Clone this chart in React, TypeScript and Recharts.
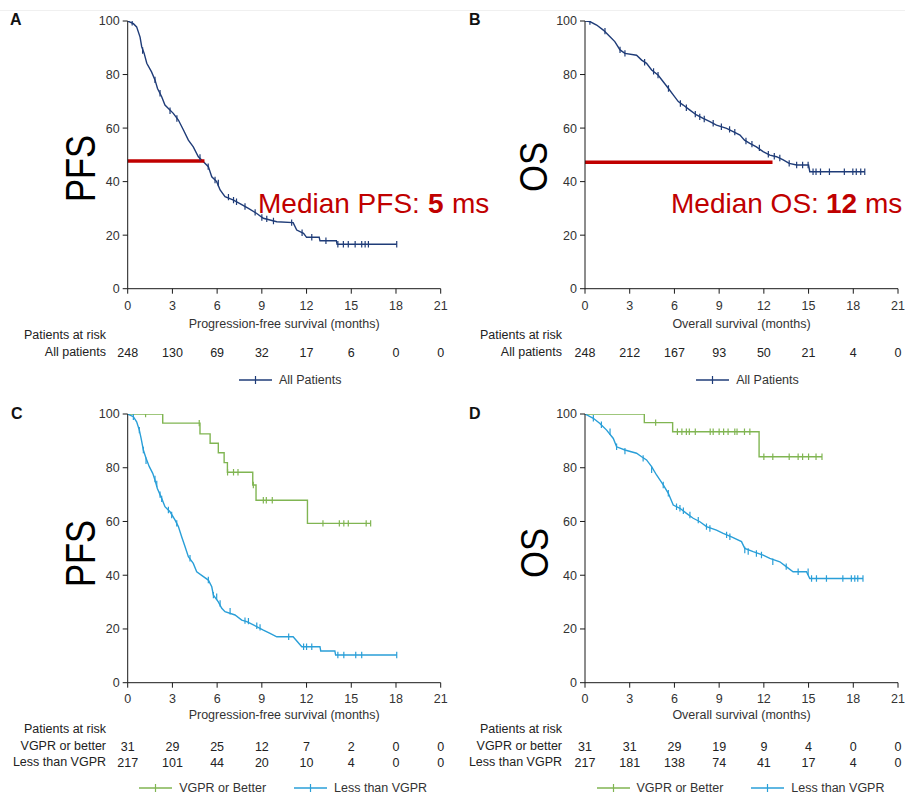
import React from 'react';
import { ComposedChart, Line, Scatter, XAxis, YAxis, ReferenceLine, Legend } from 'recharts';

type Pt = [number, number];

// ---------- axis ticks ----------
const monthTicks = [0, 3, 6, 9, 12, 15, 18, 21];
const pctTicks = [0, 20, 40, 60, 80, 100];

// ---------- Panel A: PFS, all patients ----------
const pfsAllCurve: Pt[] = [
  [0, 100], [0.38, 99], [0.6, 97.8], [0.83, 94], [0.94, 90.4], [1.1, 88], [1.28, 84.2], [1.6, 81],
  [1.83, 78], [2.0, 74.8], [2.28, 71.7], [2.5, 68.6], [3.06, 65.5], [3.4, 63], [3.74, 59.3],
  [4.07, 55.5], [4.4, 53], [4.74, 49.3], [5.08, 47.4], [5.41, 45.6], [5.64, 41.8], [5.97, 40],
  [6.2, 36.9], [6.53, 34.4], [7.1, 33.1], [7.5, 31.9], [8.1, 30], [8.66, 28.1], [9.1, 26.3],
  [10.0, 25], [11.1, 24.7], [11.34, 21.9], [11.8, 20.7], [12.0, 19.2], [12.85, 19.2], [12.9, 17.9],
  [14.0, 17.9], [14.05, 16.6], [18.05, 16.6],
];
const pfsAllCensor: Pt[] = [
  [0.3, 99.5], [1.0, 89], [1.83, 78], [2.17, 73], [2.84, 66.5], [3.3, 63.6], [4.85, 49], [5.4, 45.6],
  [5.86, 40.6], [6.08, 39.5], [6.76, 34.2], [7.1, 33.1], [7.3, 32.5], [7.87, 30.7], [8.55, 28.5],
  [9.0, 26.6], [9.33, 26.1], [9.78, 25.3], [11.0, 24.7], [11.7, 20.9], [12.35, 19.2], [13.3, 17.9],
  [14.1, 16.6], [14.47, 16.6], [14.8, 16.6], [15.26, 16.6], [15.7, 16.6], [15.93, 16.6], [16.15, 16.6], [18.05, 16.6],
];
const pfsAllMedian: Pt[] = [[0, 47.7], [5.15, 47.7]];
const pfsAllRisk = [248, 130, 69, 32, 17, 6, 0, 0];

// ---------- Panel B: OS, all patients ----------
const osAllCurve: Pt[] = [
  [0, 100], [0.33, 99.8], [0.78, 98.5], [1.23, 96.6], [1.68, 94.1], [2.0, 92.3], [2.35, 89.2],
  [2.68, 87.9], [3.46, 87.2], [3.8, 85.4], [4.13, 84.2], [4.47, 81.7], [4.9, 79.8], [5.25, 77.3],
  [5.6, 74.8], [5.92, 72.4], [6.26, 69.9], [6.59, 68.6], [7.04, 66.7], [7.48, 64.9], [7.93, 63.6],
  [8.38, 62.4], [8.82, 61.1], [9.5, 59.9], [9.94, 58.7], [10.4, 57.4], [10.7, 55.5], [11.06, 54.3],
  [11.5, 53], [11.95, 51.2], [12.4, 49.9], [12.85, 49.3], [13.3, 48.1], [13.7, 46.8], [14.2, 46.2],
  [15.0, 46.2], [15.08, 43.7], [18.77, 43.7],
];
const osAllCensor: Pt[] = [
  [0.33, 99.8], [1.34, 96.2], [2.35, 89.2], [2.68, 87.9], [4.0, 84.6], [4.6, 81.2], [4.9, 79.8],
  [5.6, 74.8], [6.4, 69.2], [6.8, 67.6], [7.4, 65.2], [7.7, 64.2], [8.0, 63.4], [8.6, 61.8],
  [9.15, 60.5], [9.7, 59.5], [10.05, 58.5], [10.8, 55.2], [11.2, 54], [11.7, 52.6], [12.3, 50.2],
  [12.7, 49.5], [13.07, 48.8], [13.7, 46.8], [14.2, 46.2], [14.6, 46.2], [14.97, 46.2],
  [15.3, 43.7], [15.5, 43.7], [15.8, 43.7], [16.4, 43.7], [17.4, 43.7], [17.97, 43.7], [18.2, 43.7],
  [18.5, 43.7], [18.77, 43.7],
];
const osAllMedian: Pt[] = [[0, 47.2], [12.58, 47.2]];
const osAllRisk = [248, 212, 167, 93, 50, 21, 4, 0];

// ---------- Panel C: PFS by response ----------
const pfsVgprCurve: Pt[] = [
  [0, 100], [2.35, 96.6], [4.85, 92.6], [5.53, 89.1], [6.08, 85.6], [6.47, 81.9], [6.69, 78.3],
  [8.39, 73.6], [8.61, 67.9], [12.06, 59.3], [16.3, 59.3],
];
const pfsVgprCensor: Pt[] = [
  [1.2, 100], [4.8, 96.6], [6.7, 78.3], [7.1, 78.3], [7.4, 78.3], [8.43, 73.6], [9.1, 67.9],
  [9.3, 67.9], [9.7, 67.9], [13.1, 59.3], [14.2, 59.3], [14.5, 59.3], [14.8, 59.3], [16.0, 59.3], [16.3, 59.3],
];
const pfsLessCurve: Pt[] = [
  [0, 100], [0.38, 99], [0.6, 97.1], [0.78, 94], [0.9, 90.9], [1.05, 86.6], [1.23, 83.5], [1.45, 80.4],
  [1.68, 77.9], [1.83, 75.4], [1.99, 72.3], [2.28, 68.6], [2.5, 65.5], [2.84, 63.6], [3.18, 60.5],
  [3.4, 58.1], [3.62, 54.3], [3.85, 50.6], [4.07, 46.9], [4.4, 44.4], [4.63, 41.3], [5.08, 39.5],
  [5.41, 38.2], [5.64, 35.7], [5.75, 32.6], [6.08, 30.1], [6.31, 27.7], [6.53, 26.4], [7.2, 25.2],
  [7.65, 23.3], [7.99, 22.7], [8.43, 21.5], [9.1, 19.6], [9.55, 18.4], [10.0, 17.1], [11.1, 17.1],
  [11.68, 13.4], [12.9, 13.4], [12.95, 11.8], [13.9, 11.8], [13.95, 10.3], [18.05, 10.3],
];
const pfsLessCensor: Pt[] = [
  [0.38, 99], [0.78, 94], [1.05, 86.6], [1.23, 82.6], [1.83, 75.8], [1.95, 74], [2.17, 70], [2.28, 68.4],
  [2.73, 64.3], [2.95, 62.4], [3.29, 59.3], [4.18, 46.3], [5.41, 38.2], [5.75, 32.6], [5.97, 32],
  [6.2, 29.5], [6.87, 26.6], [7.87, 23.1], [8.1, 22.9], [8.66, 21.2], [8.88, 20.6], [10.8, 17.1],
  [11.8, 13.4], [12.0, 13.4], [12.35, 13.4], [14.1, 10.3], [14.5, 10.3], [15.3, 10.3], [15.7, 10.3], [18.05, 10.3],
];
const pfsVgprRisk = [31, 29, 25, 12, 7, 2, 0, 0];
const pfsLessRisk = [217, 101, 44, 20, 10, 4, 0, 0];

// ---------- Panel D: OS by response ----------
const osVgprCurve: Pt[] = [
  [0, 100], [3.98, 96.8], [5.88, 93.4], [11.68, 84.1], [15.9, 84.1],
];
const osVgprCensor: Pt[] = [
  [4.74, 96.8], [6.2, 93.4], [6.5, 93.4], [6.8, 93.4], [7.0, 93.4], [7.4, 93.4], [8.4, 93.4], [8.6, 93.4],
  [9.0, 93.4], [9.3, 93.4], [9.6, 93.4], [10.05, 93.4], [10.2, 93.4], [10.7, 93.4], [11.06, 93.4],
  [12.0, 84.1], [12.6, 84.1], [13.7, 84.1], [14.3, 84.1], [14.6, 84.1], [15.0, 84.1], [15.5, 84.1], [15.9, 84.1],
];
const osLessCurve: Pt[] = [
  [0, 100], [0.56, 98.4], [1.0, 96.5], [1.45, 94], [1.9, 90.9], [2.12, 87.8], [2.68, 86.6], [3.46, 85.4],
  [3.8, 84.1], [4.13, 82.9], [4.47, 80.4], [4.8, 77.3], [5.25, 73.6], [5.59, 70.5], [5.92, 66.1],
  [6.37, 64.9], [6.81, 63], [7.26, 61.2], [7.71, 59.9], [8.15, 58.1], [8.82, 56.8], [9.27, 55.6],
  [9.83, 54.3], [10.5, 52.5], [10.72, 50], [11.28, 48.8], [11.95, 47.5], [12.4, 46.3], [13.07, 45],
  [13.5, 43.2], [13.96, 41.3], [14.86, 41.3], [15.08, 38.8], [18.65, 38.8],
];
const osLessCensor: Pt[] = [
  [0.56, 98.4], [1.1, 96], [1.68, 93.4], [2.12, 87.8], [2.68, 86.2], [3.9, 83.5], [4.47, 79.2],
  [5.25, 73.6], [5.59, 70.5], [6.14, 65.5], [6.37, 64.9], [6.6, 64], [7.04, 62.4], [7.6, 60.5],
  [8.15, 58.1], [8.38, 57.4], [9.5, 55], [9.72, 54.3], [10.72, 49.4], [10.95, 48.8], [11.5, 48.1],
  [11.84, 47.5], [12.6, 45], [13.5, 43.2], [14.3, 41.3], [14.97, 41.3], [15.2, 38.8], [15.53, 38.8],
  [16.2, 38.8], [17.3, 38.8], [17.87, 38.8], [18.1, 38.8], [18.3, 38.8], [18.65, 38.8],
];
const osVgprRisk = [31, 31, 29, 19, 9, 4, 0, 0];
const osLessRisk = [217, 181, 138, 74, 41, 17, 4, 0];

// ---------- styling ----------
const NAVY = '#1f3c78';
const BLUE = '#2a9fd8';
const GREEN = '#80b552';
const RED = '#c00000';
const TEXT = '#333';
const FONT = '"Liberation Sans", Arial, Helvetica, sans-serif';

const rows = (pts: Pt[]) => pts.map(([t, s]) => ({ t, s }));

type Series = { name: string; color: string; curve: Pt[]; censor: Pt[]; stepped: boolean };
type RiskRow = { label: string; values: number[] };

type PanelProps = {
  left: number; top: number; width: number; height: number;
  margin: { top: number; right: number; bottom: number; left: number };
  yAxisWidth: number; mainAxisHeight: number; tickMargin: number; titleOffset: number;
  axisTitle: string; series: Series[]; riskRows: RiskRow[]; riskLabelOffset: number;
  median?: Pt[]; legendHeight: number; legendPad: number; legendShift: number;
};

function LegendIcon({ color }: { color: string }) {
  return (
    <svg width={33} height={10} style={{ display: 'block' }}>
      <line x1={0} x2={33} y1={5} y2={5} stroke={color} strokeWidth={1.5} />
      <line x1={16.5} x2={16.5} y1={1} y2={9} stroke={color} strokeWidth={1.2} />
    </svg>
  );
}

function KMPanel(p: PanelProps) {
  const plotLeft = p.margin.left + p.yAxisWidth;
  const plotWidth = p.width - plotLeft - p.margin.right;
  return (
    <div style={{ position: 'absolute', left: p.left, top: p.top, width: p.width, height: p.height }}>
      <ComposedChart width={p.width} height={p.height} margin={p.margin} style={{ fontFamily: FONT }}>
        <XAxis
          dataKey="t" type="number" domain={[0, 21]} ticks={monthTicks} interval={0} allowDataOverflow
          height={p.mainAxisHeight} tickSize={5} tickMargin={p.tickMargin}
          stroke="#1a1a1a" tick={{ fill: TEXT, fontSize: 12.5 }}
          label={{ value: p.axisTitle, position: 'insideTop', offset: p.titleOffset, fill: TEXT, fontSize: 12.5 }}
        />
        {p.riskRows.map((row, i) => (
          <XAxis
            key={row.label} xAxisId={`risk${i}`} dataKey="t" type="number" domain={[0, 21]}
            ticks={monthTicks} interval={0} allowDataOverflow height={16}
            axisLine={false} tickLine={false} tickSize={0} tickMargin={4}
            tick={{ fill: '#222', fontSize: 12.5 }}
            tickFormatter={(v: number, idx: number) => String(row.values[monthTicks.indexOf(v)] ?? row.values[idx])}
            label={{ value: row.label, position: 'left', offset: p.riskLabelOffset, fill: '#222', fontSize: 12.5 }}
          />
        ))}
        <YAxis
          dataKey="s" type="number" domain={[0, 100]} ticks={pctTicks} interval={0} allowDataOverflow
          width={p.yAxisWidth} tickSize={5} tickMargin={3} stroke="#1a1a1a"
          tick={{ fill: TEXT, fontSize: 12.5 }}
        />
        {p.series.map((s) => (
          <Line
            key={s.name + '-line'} data={rows(s.curve)} dataKey="s" name={s.name}
            type={s.stepped ? 'stepAfter' : 'linear'} stroke={s.color} strokeWidth={1.4}
            dot={false} activeDot={false} isAnimationActive={false}
          />
        ))}
        {p.series.map((s) => (
          <Scatter
            key={s.name + '-censor'} data={rows(s.censor)} dataKey="s" legendType="none"
            isAnimationActive={false}
            shape={(sp: any) =>
              sp.cx == null ? <g /> : (
                <line x1={sp.cx} x2={sp.cx} y1={sp.cy - 3.2} y2={sp.cy + 3.2} stroke={s.color} strokeWidth={1.2} />
              )
            }
          />
        ))}
        {p.median && (
          <ReferenceLine
            segment={[{ x: p.median[0][0], y: p.median[0][1] }, { x: p.median[1][0], y: p.median[1][1] }]}
            stroke={RED} strokeWidth={3.5}
          />
        )}
        <Legend
          verticalAlign="bottom" align="left"
          wrapperStyle={{ left: plotLeft + p.legendShift, width: plotWidth, bottom: p.margin.bottom }}
          content={() => (
            <div style={{
              height: p.legendHeight, boxSizing: 'border-box', paddingTop: p.legendPad,
              display: 'flex', justifyContent: 'center', alignItems: 'center', gap: 28,
              fontFamily: FONT, fontSize: 12.5, color: TEXT, lineHeight: '14px',
            }}>
              {p.series.map((s) => (
                <div key={s.name} style={{ display: 'flex', alignItems: 'center' }}>
                  <LegendIcon color={s.color} />
                  <span style={{ marginLeft: 7, whiteSpace: 'nowrap' }}>{s.name}</span>
                </div>
              ))}
            </div>
          )}
        />
      </ComposedChart>
    </div>
  );
}

export default function App() {
  const topMargin = { top: 21, bottom: 8, left: 0 };
  const botMargin = { top: 19, bottom: 0, left: 0 };
  return (
    <div style={{ position: 'absolute', left: 0, top: 0, width: 905, height: 795, background: '#fff', fontFamily: FONT, overflow: 'hidden' }}>
      <div style={{ position: 'absolute', left: 0, top: 10, width: 905, height: 1, background: '#f0f0f0' }} />
      <KMPanel
        left={0} top={0} width={452} height={395}
        margin={{ ...topMargin, right: 11.3 }} yAxisWidth={127.7}
        mainAxisHeight={55.3} tickMargin={7} titleOffset={30.3}
        axisTitle="Progression-free survival (months)"
        series={[{ name: 'All Patients', color: NAVY, curve: pfsAllCurve, censor: pfsAllCensor, stepped: false }]}
        riskRows={[{ label: 'All patients', values: pfsAllRisk }]} riskLabelOffset={21.7}
        median={pfsAllMedian} legendHeight={27} legendPad={13} legendShift={6}
      />
      <KMPanel
        left={452} top={0} width={453} height={395}
        margin={{ ...topMargin, right: 7 }} yAxisWidth={133}
        mainAxisHeight={55.3} tickMargin={7} titleOffset={30.3}
        axisTitle="Overall survival (months)"
        series={[{ name: 'All Patients', color: NAVY, curve: osAllCurve, censor: osAllCensor, stepped: false }]}
        riskRows={[{ label: 'All patients', values: osAllRisk }]} riskLabelOffset={23}
        median={osAllMedian} legendHeight={27} legendPad={13} legendShift={6}
      />
      <KMPanel
        left={0} top={395} width={452} height={400}
        margin={{ ...botMargin, right: 11.3 }} yAxisWidth={127.7}
        mainAxisHeight={55.3} tickMargin={6} titleOffset={27.3}
        axisTitle="Progression-free survival (months)"
        series={[
          { name: 'VGPR or Better', color: GREEN, curve: pfsVgprCurve, censor: pfsVgprCensor, stepped: true },
          { name: 'Less than VGPR', color: BLUE, curve: pfsLessCurve, censor: pfsLessCensor, stepped: false },
        ]}
        riskRows={[{ label: 'VGPR or better', values: pfsVgprRisk }, { label: 'Less than VGPR', values: pfsLessRisk }]}
        riskLabelOffset={21.7} legendHeight={25} legendPad={11} legendShift={-1}
      />
      <KMPanel
        left={452} top={395} width={453} height={400}
        margin={{ ...botMargin, right: 7 }} yAxisWidth={133}
        mainAxisHeight={55.3} tickMargin={6} titleOffset={27.3}
        axisTitle="Overall survival (months)"
        series={[
          { name: 'VGPR or Better', color: GREEN, curve: osVgprCurve, censor: osVgprCensor, stepped: true },
          { name: 'Less than VGPR', color: BLUE, curve: osLessCurve, censor: osLessCensor, stepped: false },
        ]}
        riskRows={[{ label: 'VGPR or better', values: osVgprRisk }, { label: 'Less than VGPR', values: osLessRisk }]}
        riskLabelOffset={23} legendHeight={25} legendPad={11} legendShift={-1}
      />
      <svg width={905} height={795} style={{ position: 'absolute', left: 0, top: 0, pointerEvents: 'none' }} fontFamily={FONT}>
        <text x={10} y={25} fontSize={16} fontWeight="bold" fill="#111">A</text>
        <text x={469} y={25} fontSize={16} fontWeight="bold" fill="#111">B</text>
        <text x={11} y={419} fontSize={16} fontWeight="bold" fill="#111">C</text>
        <text x={469} y={419} fontSize={16} fontWeight="bold" fill="#111">D</text>

        <text transform="translate(95,168.5) rotate(-90)" textAnchor="middle" fontSize={42} textLength={67} lengthAdjust="spacingAndGlyphs" fill="#000">PFS</text>
        <text transform="translate(547,167) rotate(-90)" textAnchor="middle" fontSize={38} textLength={50} lengthAdjust="spacingAndGlyphs" fill="#000">OS</text>
        <text transform="translate(95,553.5) rotate(-90)" textAnchor="middle" fontSize={42} textLength={67} lengthAdjust="spacingAndGlyphs" fill="#000">PFS</text>
        <text transform="translate(548,553) rotate(-90)" textAnchor="middle" fontSize={38} textLength={50} lengthAdjust="spacingAndGlyphs" fill="#000">OS</text>

        <text x={258} y={213} fontSize={28} fill={RED}>Median PFS:</text>
        <text x={428} y={213} fontSize={28} fontWeight="bold" fill={RED}>5</text>
        <text x={452} y={213} fontSize={28} fill={RED}>ms</text>

        <text x={671} y={213} fontSize={28} fill={RED}>Median OS:</text>
        <text x={826} y={213} fontSize={28} fontWeight="bold" fill={RED}>12</text>
        <text x={865} y={213} fontSize={28} fill={RED}>ms</text>

        <text x={106} y={338.5} fontSize={12.5} textAnchor="end" fill="#222">Patients at risk</text>
        <text x={562} y={338.5} fontSize={12.5} textAnchor="end" fill="#222">Patients at risk</text>
        <text x={106} y={732.5} fontSize={12.5} textAnchor="end" fill="#222">Patients at risk</text>
        <text x={562} y={732.5} fontSize={12.5} textAnchor="end" fill="#222">Patients at risk</text>
      </svg>
    </div>
  );
}
